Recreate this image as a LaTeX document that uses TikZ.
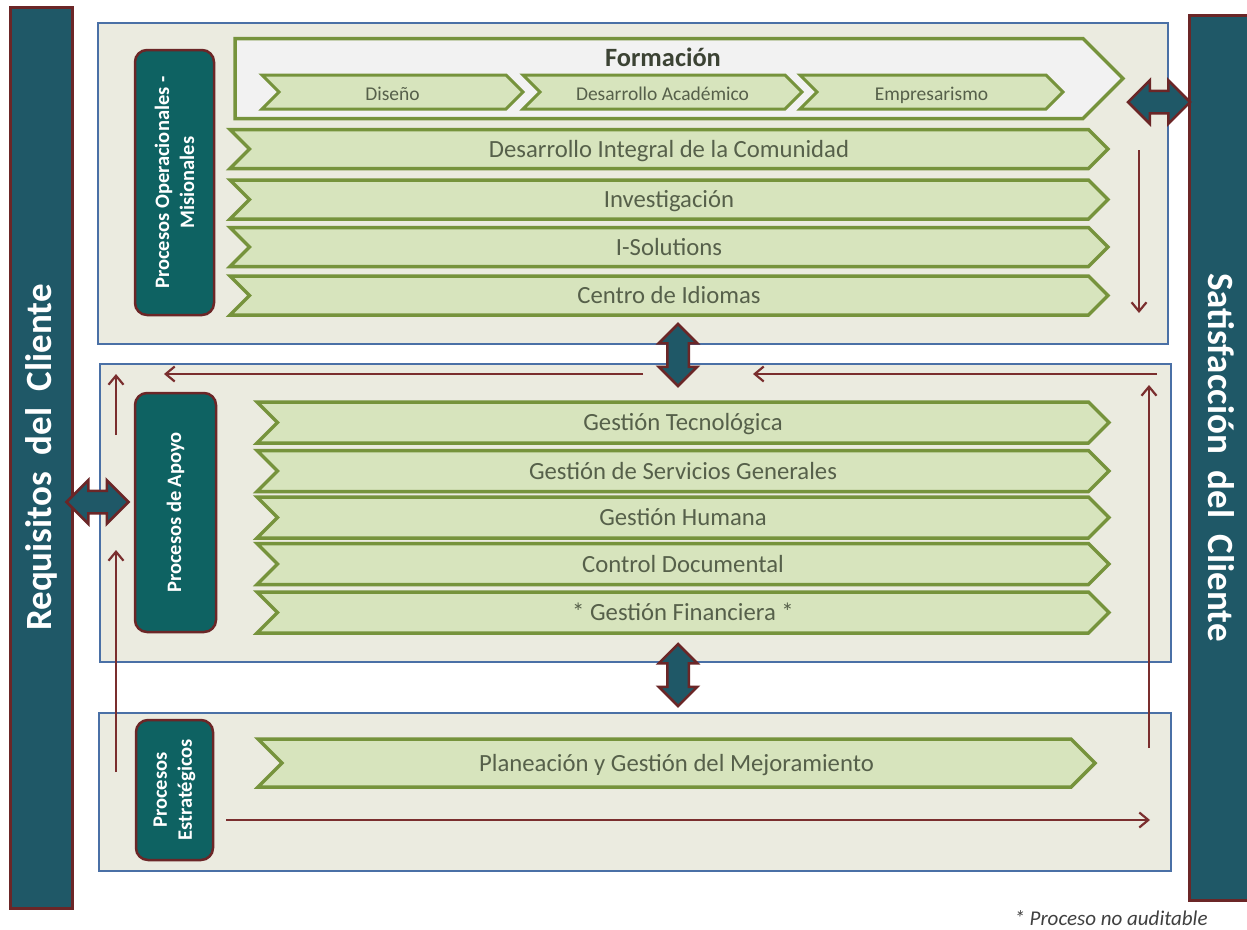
\documentclass[tikz,border=0pt]{standalone}
\usepackage{fontspec}
\setmainfont{Carlito}
\usetikzlibrary{shapes.symbols,shapes.arrows,arrows.meta}

\definecolor{barteal}{HTML}{1F5867}
\definecolor{tagteal}{HTML}{0E6262}
\definecolor{tagred}{HTML}{6B2627}
\definecolor{boxblue}{HTML}{4A70A6}
\definecolor{boxfill}{HTML}{EBEBE0}
\definecolor{chevfill}{HTML}{D7E4BD}
\definecolor{chevline}{HTML}{76933C}
\definecolor{chevtext}{HTML}{56604A}
\definecolor{flowred}{HTML}{7A2E2E}

\tikzset{
  clientbar/.style={draw=tagred,line width=3pt,fill=barteal,text=white,inner sep=0pt,
    font=\bfseries\fontsize{37}{44}\selectfont},
  procbox/.style={draw=boxblue,line width=2.5pt,fill=boxfill,inner sep=0pt},
  tagbox/.style={draw=tagred,line width=2.5pt,fill=tagteal,rounded corners=12pt,
    text=white,align=center,rotate=90,inner sep=0pt,
    font=\bfseries\fontsize{20.5}{25}\selectfont},
  chev/.style={signal,signal from=west,signal to=east,draw=chevline,fill=chevfill,
    line width=3.5pt,inner sep=0pt,text=chevtext,text height=18.5pt,text depth=2.5pt,
    font=\fontsize{24.7}{29}\selectfont},
  subchev/.style={chev,minimum height=34pt,line width=3pt,text height=18pt,text depth=1.6pt,
    font=\fontsize{19.5}{23}\selectfont},
  twoway/.style={double arrow,draw=tagred,fill=barteal,line width=2.5pt,inner xsep=0pt,
    minimum height=62pt},
  flow/.style={draw=flowred,line width=2.2pt,-{Straight Barb[length=9pt,width=15pt]}}
}

\begin{document}
\begin{tikzpicture}[x=1pt,y=-1pt]
\useasboundingbox[fill=white] (0,0) rectangle (1247,929);

% cliente
\node[clientbar,rotate=90,minimum width=901pt,minimum height=62pt] (req) at (41,457.5) {Requisitos~~del~~Cliente};
\node[clientbar,rotate=-90,minimum width=885pt,minimum height=64pt] (sat) at (1221,457.5) {Satisfacción~~del~~Cliente};

% bloques de procesos
\node[procbox,minimum width=1070pt,minimum height=321pt] (mis) at (633,183.5) {};
\node[procbox,minimum width=1071pt,minimum height=298pt] (apo) at (635.5,513) {};
\node[procbox,minimum width=1072pt,minimum height=158pt] (est) at (635,792) {};

\node[tagbox,minimum width=265pt,minimum height=79pt] (tagmis) at (174.5,182.5) {Procesos Operacionales -\\Misionales};
\node[tagbox,minimum width=239pt,minimum height=81pt] (tagapo) at (175.5,512.5) {Procesos de Apoyo};
\node[tagbox,minimum width=140pt,minimum height=77pt] (tagest) at (174.5,790) {Procesos\\Estratégicos};

% formacion
\node[chev,signal from=nowhere,fill=black!5,minimum width=888pt,minimum height=80pt] (form) at (659,78.5) {};
\node[font=\bfseries\fontsize{26.4}{31}\selectfont,text=chevtext!70!black] (formtitle) at (663,57) {Formación};
\foreach \cx/\w/\txt [count=\i] in {392.5/261/Diseño,662.5/279/Desarrollo Académico,931.5/263/Empresarismo}
  \node[subchev,minimum width=\w pt] (sub\i) at (\cx,92) {\txt};

% misionales
\foreach \cy/\txt [count=\i] in {149/Desarrollo Integral de la Comunidad,199.5/Investigación,247/I-Solutions,295.5/Centro de Idiomas}
  \node[chev,minimum width=878pt,minimum height=39pt] (mis\i) at (669,\cy) {\txt};

% apoyo
\foreach \cy/\txt [count=\i] in {422.5/Gestión Tecnológica,471/Gestión de Servicios Generales,517.5/Gestión Humana,564/Control Documental,612.5/* Gestión Financiera *}
  \node[chev,minimum width=852pt,minimum height=41pt] (apo\i) at (683,\cy) {\txt};

% estrategicos
\node[chev,minimum width=837pt,minimum height=48pt] (est1) at (676.5,763) {Planeación y Gestión del Mejoramiento};

% flechas dobles
\node[twoway,double arrow head extend=10.5pt,inner ysep=10pt] (satlink) at (1159,102) {};
\node[twoway,double arrow head extend=10.5pt,inner ysep=10pt] (reqlink) at (97.5,502) {};
\node[twoway,rotate=90,double arrow head extend=8.5pt,inner ysep=9.5pt] (misapo) at (678,355) {};
\node[twoway,rotate=90,double arrow head extend=8.5pt,inner ysep=9.5pt] (apoest) at (678,675) {};

% ciclo
\draw[flow] (1139,150) -- (1139,313);
\draw[flow] (643,374) -- (164,374);
\draw[flow] (1157,374) -- (753,374);
\draw[flow] (116,772) -- (116,550);
\draw[flow] (116,435) -- (116,374);
\draw[flow] (1149,748) -- (1149,385);
\draw[flow] (226,820) -- (1150,820);

\node[font=\itshape\fontsize{21}{25}\selectfont,text=black!75] (note) at (1111,918) {* Proceso no auditable};
\end{tikzpicture}
\end{document}
